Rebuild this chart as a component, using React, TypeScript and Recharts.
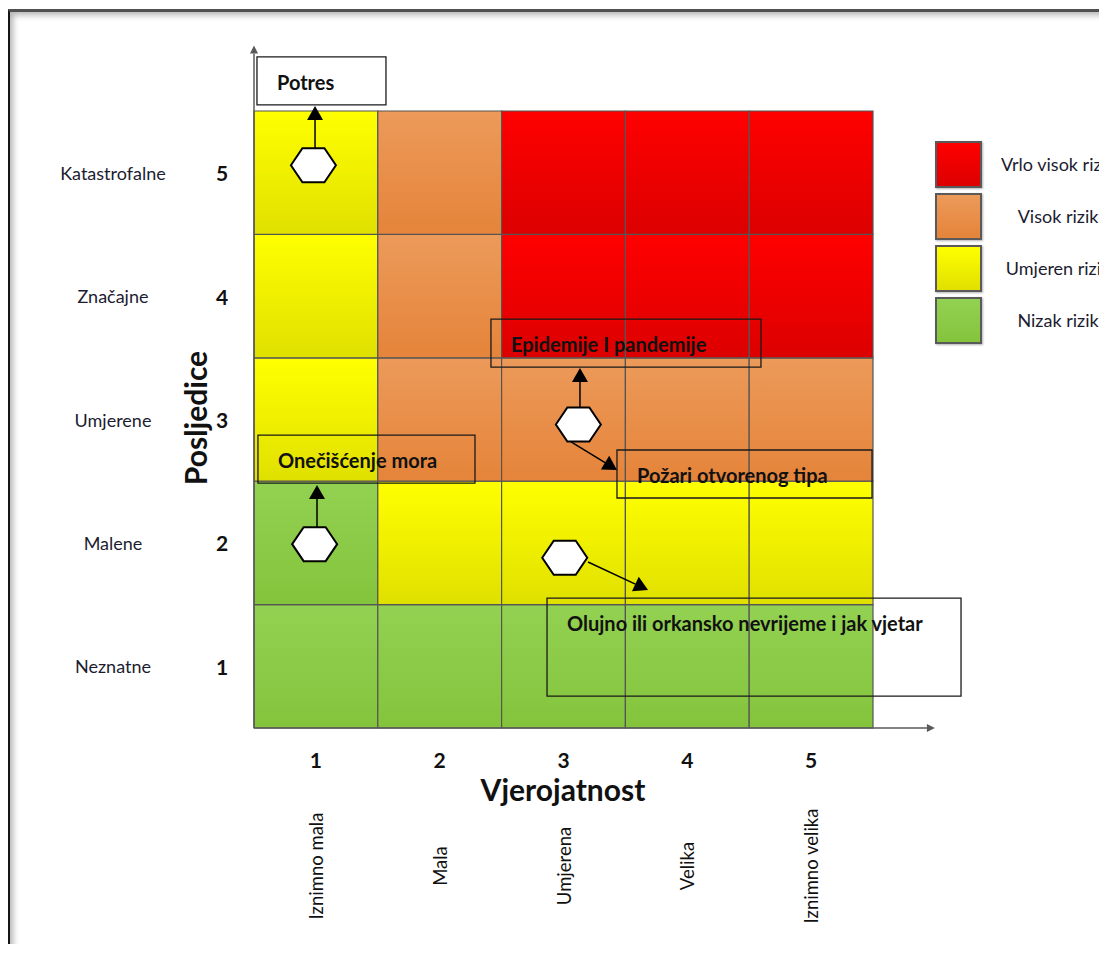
import React from "react";
import {
  ScatterChart,
  Scatter,
  XAxis,
  YAxis,
  ReferenceArea,
  ReferenceLine,
  Label,
  Legend,
} from "recharts";

const FONT = "Lato, 'Noto Sans', sans-serif";

// axes
const likelihoodTicks = [1, 2, 3, 4, 5];
const likelihoodNames = ["Iznimno mala", "Mala", "Umjerena", "Velika", "Iznimno velika"];
const consequenceTicks = [1, 2, 3, 4, 5];
const consequenceNames = ["Neznatne", "Malene", "Umjerene", "Značajne", "Katastrofalne"];

// risk level of each cell, row = consequence 1..5 (bottom to top), column = likelihood 1..5
const riskRows = [
  ["low", "low", "low", "low", "low"],
  ["low", "moderate", "moderate", "moderate", "moderate"],
  ["moderate", "high", "high", "high", "high"],
  ["moderate", "high", "veryHigh", "veryHigh", "veryHigh"],
  ["moderate", "high", "veryHigh", "veryHigh", "veryHigh"],
];

const legendKeys = ["veryHigh", "high", "moderate", "low"];
const legendNames = ["Vrlo visok rizik", "Visok rizik", "Umjeren rizik", "Nizak rizik"];

// assessed risks (hexagons)
const risks = [
  { name: "Potres", likelihood: 0.98, consequence: 5.06 },
  { name: "Epidemije / Požari", likelihood: 3.12, consequence: 2.96 },
  { name: "Onečišćenje mora", likelihood: 0.99, consequence: 1.99 },
  { name: "Olujno nevrijeme", likelihood: 3.01, consequence: 1.88 },
];

// callout boxes (in axis units)
const calloutNames = [
  "Potres",
  "Epidemije I pandemije",
  "Požari otvorenog tipa",
  "Onečišćenje mora",
  "Olujno ili orkansko nevrijeme i jak vjetar",
];
const calloutX1 = [0.524, 2.414, 3.432, 0.532, 2.867];
const calloutX2 = [1.566, 4.595, 5.492, 2.285, 6.211];
const calloutY1 = [5.549, 3.425, 2.364, 2.485, 0.759];
const calloutY2 = [5.938, 3.814, 2.753, 2.874, 1.553];

// arrows from hexagon to callout (in axis units)
const arrowFrom = [
  { x: 0.993, y: 5.2 },
  { x: 3.133, y: 3.077 },
  { x: 3.061, y: 2.818 },
  { x: 1.009, y: 2.129 },
  { x: 3.198, y: 1.845 },
];
const arrowTo = [
  { x: 0.993, y: 5.54 },
  { x: 3.133, y: 3.417 },
  { x: 3.432, y: 2.591 },
  { x: 1.009, y: 2.469 },
  { x: 3.683, y: 1.618 },
];

const gradients: Record<string, [string, string]> = {
  veryHigh: ["#ff0000", "#dc0000"],
  high: ["#ec9a5a", "#e5843a"],
  moderate: ["#ffff00", "#e0e000"],
  low: ["#93d152", "#84c43c"],
};

const arrowShape = (size: number, half: number, color: string, width: number) => (p: any) => {
  const { x1, y1, x2, y2 } = p;
  const ang = Math.atan2(y2 - y1, x2 - x1);
  const bx = x2 - size * Math.cos(ang);
  const by = y2 - size * Math.sin(ang);
  const nx = -Math.sin(ang);
  const ny = Math.cos(ang);
  return (
    <g>
      <line x1={x1} y1={y1} x2={bx} y2={by} stroke={color} strokeWidth={width} />
      <polygon
        points={`${x2},${y2} ${bx + nx * half},${by + ny * half} ${bx - nx * half},${by - ny * half}`}
        fill={color}
      />
    </g>
  );
};

const Hexagon = (props: any) => {
  const { cx, cy } = props;
  const w = 22.5;
  const s = 11;
  const h = 17;
  const pts = [
    [cx - w, cy],
    [cx - s, cy - h],
    [cx + s, cy - h],
    [cx + w, cy],
    [cx + s, cy + h],
    [cx - s, cy + h],
  ]
    .map((q) => q.join(","))
    .join(" ");
  return <polygon points={pts} fill="#ffffff" stroke="#000" strokeWidth={2} />;
};

const YTick = (props: any) => {
  const { y, payload } = props;
  const i = consequenceTicks.indexOf(payload.value);
  return (
    <g>
      <text x={105} y={y} textAnchor="middle" dominantBaseline="central" fontSize={18} fill="#1c1c30" fontFamily={FONT}>
        {consequenceNames[i]}
      </text>
      <text x={214} y={y} textAnchor="middle" dominantBaseline="central" fontSize={21} fontWeight={700} fill="#111" fontFamily={FONT}>
        {payload.value}
      </text>
    </g>
  );
};

const XTick = (props: any) => {
  const { x, payload } = props;
  const i = likelihoodTicks.indexOf(payload.value);
  return (
    <g>
      <text x={x} y={751} textAnchor="middle" dominantBaseline="central" fontSize={21} fontWeight={700} fill="#111" fontFamily={FONT}>
        {payload.value}
      </text>
      <text
        x={x}
        y={858}
        transform={`rotate(-90 ${x} 858)`}
        textAnchor="middle"
        dominantBaseline="central"
        fontSize={18.5}
        fill="#111"
        fontFamily={FONT}
      >
        {likelihoodNames[i]}
      </text>
    </g>
  );
};

const LegendBoxes = () => (
  <div style={{ fontFamily: FONT }}>
    {legendKeys.map((k, i) => (
      <div key={k} style={{ display: "flex", alignItems: "center", height: 52 }}>
        <div
          style={{
            width: 43,
            height: 43,
            flex: "none",
            border: "2px solid #5a5a5a",
            background: `linear-gradient(${gradients[k][0]}, ${gradients[k][1]})`,
            boxShadow: "1px 1px 2px rgba(0,0,0,0.3)",
          }}
        />
        <div
          style={{
            width: 150,
            flex: "none",
            marginLeft: 1,
            textAlign: "center",
            fontSize: 18,
            color: "#1c1c30",
            whiteSpace: "nowrap",
          }}
        >
          {legendNames[i]}
        </div>
      </div>
    ))}
  </div>
);

export default function App() {
  return (
    <div style={{ position: "relative", width: 1099, height: 936, overflow: "hidden", fontFamily: FONT }}>
      <div
        style={{
          position: "absolute",
          left: -1,
          top: 1,
          width: 1120,
          height: 940,
          borderLeft: "3px solid #151515",
          borderTop: "3px solid #505050",
          boxShadow: "inset 5px 5px 6px -2px rgba(0,0,0,0.3)",
        }}
      />
      <div style={{ position: "absolute", left: 0, top: 0 }}>
        <ScatterChart width={1099} height={936} margin={{ top: 103, right: 234, bottom: 0, left: 0 }}>
          <defs>
            {Object.keys(gradients).map((k) => (
              <linearGradient key={k} id={`grad-${k}`} x1="0" y1="0" x2="0" y2="1">
                <stop offset="0%" stopColor={gradients[k][0]} />
                <stop offset="100%" stopColor={gradients[k][1]} />
              </linearGradient>
            ))}
          </defs>
          <XAxis
            type="number"
            dataKey="likelihood"
            domain={[0.5, 5.5]}
            ticks={likelihoodTicks}
            interval={0}
            allowDataOverflow
            height={216}
            axisLine={false}
            tickLine={false}
            tick={(p: any) => <XTick {...p} />}
          >
            <Label
              content={() => (
                <text x={555} y={781} textAnchor="middle" dominantBaseline="central" fontSize={30} fontWeight={700} fill="#111" fontFamily={FONT}>
                  Vjerojatnost
                </text>
              )}
            />
          </XAxis>
          <YAxis
            type="number"
            dataKey="consequence"
            domain={[0.5, 5.5]}
            ticks={consequenceTicks}
            interval={0}
            allowDataOverflow
            width={246}
            axisLine={false}
            tickLine={false}
            tick={(p: any) => <YTick {...p} />}
          >
            <Label
              content={() => (
                <text
                  x={187}
                  y={410}
                  transform="rotate(-90 187 410)"
                  textAnchor="middle"
                  dominantBaseline="central"
                  fontSize={30}
                  fontWeight={700}
                  fill="#111"
                  fontFamily={FONT}
                >
                  Posljedice
                </text>
              )}
            />
          </YAxis>

          {riskRows.map((row, r) =>
            row.map((level, c) => (
              <ReferenceArea
                key={`cell-${r}-${c}`}
                x1={likelihoodTicks[c] - 0.5}
                x2={likelihoodTicks[c] + 0.5}
                y1={consequenceTicks[r] - 0.5}
                y2={consequenceTicks[r] + 0.5}
                fill={`url(#grad-${level})`}
                fillOpacity={1}
                stroke="#555"
                strokeWidth={1.2}
                ifOverflow="visible"
              />
            ))
          )}

          <ReferenceLine
            segment={[
              { x: 0.5, y: 0.5 },
              { x: 0.5, y: 6.03 },
            ]}
            ifOverflow="visible"
            shape={arrowShape(8, 4, "#5a5a5a", 1.5)}
          />
          <ReferenceLine
            segment={[
              { x: 0.5, y: 0.5 },
              { x: 6.0, y: 0.5 },
            ]}
            ifOverflow="visible"
            shape={arrowShape(8, 4, "#5a5a5a", 1.5)}
          />

          {calloutNames.map((name, i) => (
            <ReferenceArea
              key={`box-${i}`}
              x1={calloutX1[i]}
              x2={calloutX2[i]}
              y1={calloutY1[i]}
              y2={calloutY2[i]}
              fill="none"
              stroke="#1a1a1a"
              strokeWidth={1.3}
              ifOverflow="visible"
              label={(p: any) => (
                <text
                  x={p.viewBox.x + 20}
                  y={p.viewBox.y + 25}
                  dominantBaseline="central"
                  fontSize={20}
                  fontWeight={700}
                  fill="#111"
                  fontFamily={FONT}
                >
                  {name}
                </text>
              )}
            />
          ))}

          {arrowFrom.map((from, i) => (
            <ReferenceLine
              key={`arrow-${i}`}
              segment={[from, arrowTo[i]]}
              ifOverflow="visible"
              shape={arrowShape(14, 8, "#000", 1.5)}
            />
          ))}

          <Scatter data={risks} isAnimationActive={false} shape={(p: any) => <Hexagon {...p} />} />

          <Legend
            layout="horizontal"
            verticalAlign="middle"
            align="center"
            wrapperStyle={{ position: "absolute", left: 927, top: 130, width: 220, height: 220 }}
            content={() => <LegendBoxes />}
          />
        </ScatterChart>
      </div>
    </div>
  );
}
